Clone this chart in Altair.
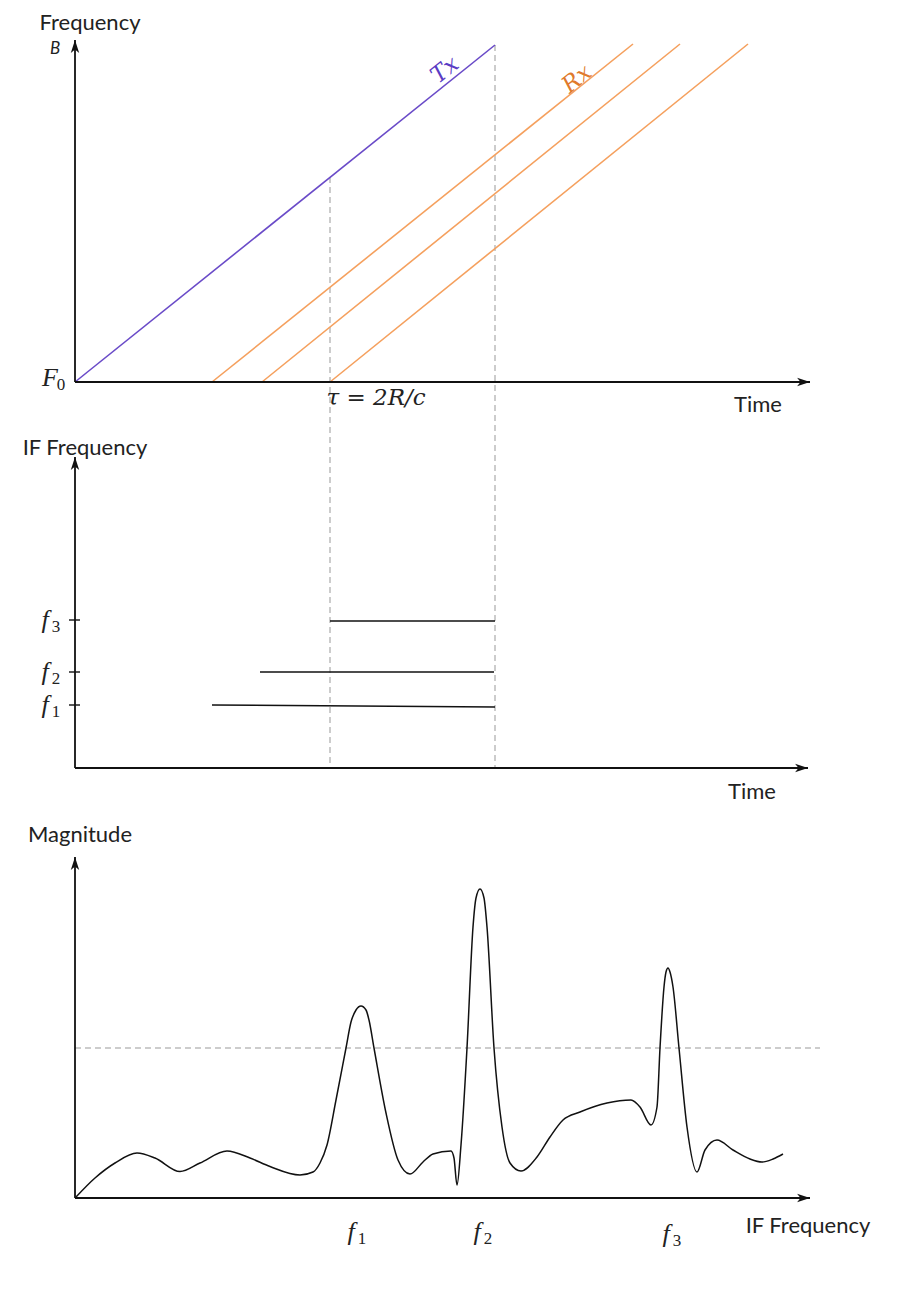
import altair as alt
import pandas as pd

# ---- canvas (diagram) coordinates ----
axis_x0 = [75, 75, 75, 75, 75, 75]
axis_y0 = [382, 382, 768, 768, 1198, 1198]
axis_x1 = [75, 810, 75, 808, 75, 810]
axis_y1 = [40, 382, 457, 768, 857, 1198]
axis_dir = ["up", "right", "up", "right", "up", "right"]

# chirps (top panel)
tx_x0, tx_y0, tx_x1, tx_y1 = [75], [382], [495], [45]
rx_x0 = [212, 262, 330]
rx_y0 = [382, 382, 382]
rx_x1 = [633, 680, 748]
rx_y1 = [44, 44, 44]

# dashed guides
dash_x0 = [330, 495, 75]
dash_y0 = [177, 45, 1048]
dash_x1 = [330, 495, 820]
dash_y1 = [768, 768, 1048]

# IF (beat) frequency lines (middle panel)
if_x0 = [212, 260, 330]
if_y0 = [705, 672, 621]
if_x1 = [495, 494, 495]
if_y1 = [707, 672, 621]
tick_y = [705, 672, 620]

# magnitude spectrum (bottom panel)
spec_x = [76, 95, 115, 137, 155, 180, 200, 227, 250, 270, 300, 313, 320, 327,
          336, 346, 351, 356, 361, 366, 369, 374, 386, 398, 410, 423, 433,
          451, 454, 457, 461, 467, 473, 476, 480, 484, 487, 494, 502, 510, 521,
          537, 550, 563, 580, 607, 631, 640, 651, 657, 660, 664, 666, 668, 670,
          673, 679, 687, 697, 705, 717, 733, 750, 762, 773, 783]
spec_y = [1197, 1178, 1163, 1153, 1158, 1171.5, 1163, 1151, 1158, 1166.5, 1175,
          1172, 1163, 1145, 1100, 1048, 1022, 1010, 1006, 1010, 1020, 1048,
          1113, 1160, 1174, 1162, 1154, 1151, 1158, 1185, 1145, 1048, 927, 898,
          889, 898, 927, 1048, 1127, 1163, 1171, 1157, 1137, 1120, 1112, 1103,
          1100, 1107, 1125, 1107, 1048, 987, 972, 968, 972, 987, 1048, 1127, 1172,
          1150, 1140, 1150, 1159, 1162, 1159, 1154]

# labels
sans_text = ["Frequency", "Time", "IF Frequency", "Time", "Magnitude", "IF Frequency"]
sans_x = [90, 758, 85, 752, 80, 808]
sans_y = [23, 405, 448, 792, 835, 1226]

sym_text = ["F", "f", "f", "f", "f", "f", "f"]
sym_x = [50, 45, 45, 45, 351, 477, 666]
sym_y = [378, 620, 672, 705, 1232, 1232, 1234]
sub_text = ["0", "3", "2", "1", "1", "2", "3"]

tau_text = ["τ = 2R/c"]
tau_x, tau_y = [376], [398]

W, H = 880, 1270
xs = alt.Scale(domain=[8, 8 + W], nice=False, zero=False)
ys = alt.Scale(domain=[8, 8 + H], nice=False, zero=False, reverse=True)
X = lambda f="x": alt.X(f"{f}:Q", scale=xs, axis=None)
Y = lambda f="y": alt.Y(f"{f}:Q", scale=ys, axis=None)


def seg_df(x0, y0, x1, y1):
    return pd.DataFrame({"x": x0, "y": y0, "x2": x1, "y2": y1})


def rules(df, **kw):
    return alt.Chart(df).mark_rule(**kw).encode(
        x=X(), y=Y(), x2="x2:Q", y2="y2:Q")


def texts(x, y, t, **kw):
    return alt.Chart(pd.DataFrame({"x": x, "y": y, "t": t})).mark_text(
        align="center", baseline="middle", **kw).encode(x=X(), y=Y(), text="t:N")


axes = rules(seg_df(axis_x0, axis_y0, axis_x1, axis_y1), color="#111", strokeWidth=1.8)
tx = rules(seg_df(tx_x0, tx_y0, tx_x1, tx_y1), color="#6a4bc8", strokeWidth=1.6)
rx = rules(seg_df(rx_x0, rx_y0, rx_x1, rx_y1), color="#f5a05e", strokeWidth=1.6)
dashes = rules(seg_df(dash_x0, dash_y0, dash_x1, dash_y1), color="#999",
               strokeWidth=1, strokeDash=[6, 4])
iflines = rules(seg_df(if_x0, if_y0, if_x1, if_y1), color="#111", strokeWidth=1.4)
ticks = rules(seg_df([69] * 3, tick_y, [80] * 3, tick_y), color="#111", strokeWidth=1.4)

up_df = pd.DataFrame({"x": [axis_x1[i] for i in range(6) if axis_dir[i] == "up"],
                      "y": [axis_y1[i] + 7 for i in range(6) if axis_dir[i] == "up"]})
rt_df = pd.DataFrame({"x": [axis_x1[i] - 7 for i in range(6) if axis_dir[i] == "right"],
                      "y": [axis_y1[i] for i in range(6) if axis_dir[i] == "right"]})
up_arrow = alt.Chart(up_df).mark_point(
    shape="M0,-1 L0.6,0.85 L0,0.35 L-0.6,0.85 Z", filled=True, size=196,
    color="#111", opacity=1, strokeWidth=0).encode(x=X(), y=Y())
rt_arrow = alt.Chart(rt_df).mark_point(
    shape="M1,0 L-0.85,0.6 L-0.35,0 L-0.85,-0.6 Z", filled=True, size=196,
    color="#111", opacity=1, strokeWidth=0).encode(x=X(), y=Y())

spec = alt.Chart(pd.DataFrame({"x": spec_x, "y": spec_y})).mark_line(
    color="#111", strokeWidth=1.5, interpolate="monotone").encode(
    x=X(), y=Y(), order="x:Q")

sans = texts(sans_x, sans_y, sans_text, font="Lato", fontSize=22, color="#222")
blabel = texts([55], [49], ["B"], font="Lato", fontSize=17, fontStyle="italic",
               color="#222")
syms = texts(sym_x, sym_y, sym_text, font="Liberation Serif", fontSize=26,
             fontStyle="italic", color="#222")
subs = texts([v + 11 for v in sym_x], [v + 7 for v in sym_y], sub_text,
             font="Liberation Serif", fontSize=17, color="#222")
tau = texts(tau_x, tau_y, tau_text, font="DejaVu Serif", fontSize=23,
            fontStyle="italic", color="#222")
txlab = texts([445], [70], ["Tx"], font="DejaVu Serif", fontSize=23,
              fontStyle="italic", color="#5a3cc4", angle=321.3)
rxlab = texts([577], [79], ["Rx"], font="DejaVu Serif", fontSize=23,
              fontStyle="italic", color="#e07a2c", angle=321.3)

chart = alt.layer(
    dashes, tx, rx, iflines, ticks, axes, up_arrow, rt_arrow, spec,
    sans, blabel, syms, subs, tau, txlab, rxlab
).properties(
    width=W, height=H,
    autosize=alt.AutoSizeParams(type="fit", contains="padding"),
    padding=0,
).configure_view(stroke=None)

chart.save("out.html", embed_options={"renderer": "svg", "actions": False})
